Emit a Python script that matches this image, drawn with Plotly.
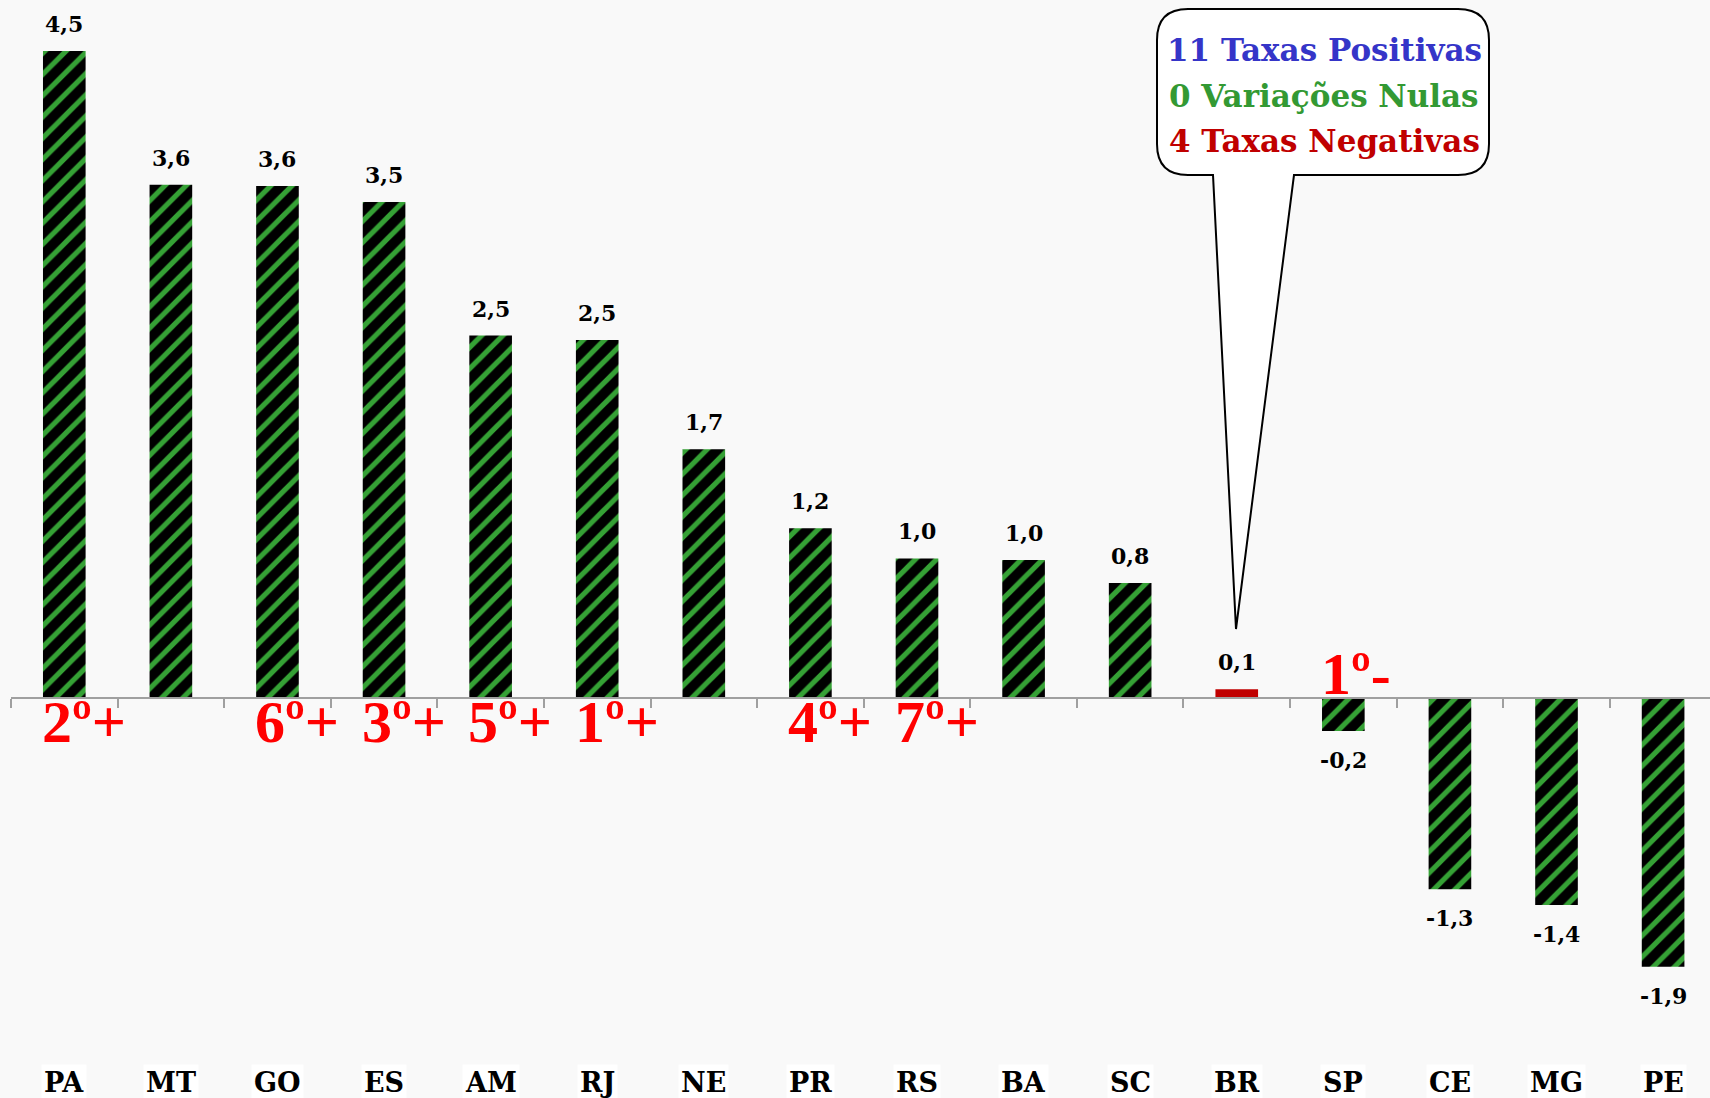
import plotly.graph_objects as go

# ---------------- data ----------------
categories = ["PA", "MT", "GO", "ES", "AM", "RJ", "NE", "PR", "RS", "BA", "SC", "BR", "SP", "CE", "MG", "PE"]
values = [4.50, 3.57, 3.56, 3.45, 2.52, 2.49, 1.73, 1.18, 0.97, 0.96, 0.80, 0.06, -0.23, -1.33, -1.44, -1.87]
ranks = ["2º+", "", "6º+", "3º+", "5º+", "1º+", "", "4º+", "7º+", "", "", "", "1º-", "", "", ""]
highlight = "BR"
callout_lines = ["11 Taxas Positivas", "0 Variações Nulas", "4 Taxas Negativas"]
callout_colors = ["#3535c8", "#339933", "#c00000"]

# ---------------- layout constants ----------------
W, H = 1710, 1098
ML, MR, MT_, MB = 11, 0, 0, 0
YMAX, YMIN = 4.854, -2.782
XMIN, XMAX = -0.5, 15.44
BARW = 0.4
BG = "#f9f9f9"
GREEN = "#35a135"
SERIF = "DejaVu Serif"
TIMES = "Liberation Serif"

pw = W - ML - MR
ph = H - MT_ - MB


def px(xp):
    return (xp - ML) / pw


def py(yp):
    return 1 - (yp - MT_) / ph


labels = [f"<b>{v:.1f}</b>".replace(".", ",") for v in values]

reg_x = [c for c in categories if c != highlight]
reg_y = [v for c, v in zip(categories, values) if c != highlight]
hi_x = [c for c in categories if c == highlight]
hi_y = [v for c, v in zip(categories, values) if c == highlight]

fig = go.Figure()
fig.add_trace(go.Bar(
    x=reg_x, y=reg_y, width=BARW,
    marker=dict(
        color="black", line=dict(width=0),
        pattern=dict(shape="/", fgcolor=GREEN, bgcolor="black", fgopacity=1,
                     fillmode="replace", size=15, solidity=0.35),
    ),
    hoverinfo="skip",
))
fig.add_trace(go.Bar(
    x=hi_x, y=hi_y, width=BARW,
    marker=dict(color="#c00000", line=dict(width=0)),
    hoverinfo="skip",
))

annotations = []
# value labels
for i, (v, t) in enumerate(zip(values, labels)):
    annotations.append(dict(
        x=i, y=v, xref="x", yref="y", xanchor="center", yanchor="middle",
        yshift=27 if v >= 0 else -29, text=t, showarrow=False,
        font=dict(family=SERIF, size=22, color="black"),
    ))

# rank labels
for i, (c, r, v) in enumerate(zip(categories, ranks, values)):
    if not r:
        continue
    above = v < 0
    annotations.append(dict(
        x=i - BARW / 2, y=0, xref="x", yref="y",
        xanchor="left", yanchor="middle",
        yshift=24 if above else -24, xshift=-3,
        text=f"<b>{r}</b>", showarrow=False,
        font=dict(family=TIMES, size=60, color="#ff0000"),
    ))

# category labels at bottom
for i, c in enumerate(categories):
    annotations.append(dict(
        x=i, y=py(1082), xref="x", yref="paper",
        xanchor="center", yanchor="middle",
        text=f"<b>{c}</b>", showarrow=False,
        font=dict(family=SERIF, size=27, color="black"),
        bgcolor="white", borderpad=2,
    ))

# callout
L, R, T, B, rad = 1157, 1489, 9, 175, 31
pL, pR, ax_, ay_ = 1213, 1294, 1236, 629
path = (
    f"M{px(L+rad)},{py(T)} L{px(R-rad)},{py(T)} Q{px(R)},{py(T)} {px(R)},{py(T+rad)} "
    f"L{px(R)},{py(B-rad)} Q{px(R)},{py(B)} {px(R-rad)},{py(B)} "
    f"L{px(pR)},{py(B)} L{px(ax_)},{py(ay_)} L{px(pL)},{py(B)} "
    f"L{px(L+rad)},{py(B)} Q{px(L)},{py(B)} {px(L)},{py(B-rad)} "
    f"L{px(L)},{py(T+rad)} Q{px(L)},{py(T)} {px(L+rad)},{py(T)} Z"
)
shapes = [dict(type="path", xref="paper", yref="paper", path=path,
               fillcolor="white", line=dict(color="black", width=2), layer="above")]

for k, (t, col) in enumerate(zip(callout_lines, callout_colors)):
    annotations.append(dict(
        x=px(1324), y=py(50 + 45.5 * k), xref="paper", yref="paper",
        xanchor="center", yanchor="middle", showarrow=False,
        text=f"<b>{t}</b>", font=dict(family=SERIF, size=31, color=col),
    ))

zero_pos = (0 - YMIN) / (YMAX - YMIN)

fig.update_layout(
    width=W, height=H,
    margin=dict(l=ML, r=MR, t=MT_, b=MB),
    paper_bgcolor=BG, plot_bgcolor=BG,
    showlegend=False,
    barmode="overlay",
    xaxis=dict(
        range=[XMIN, XMAX], anchor="free", position=zero_pos,
        categoryorder="array", categoryarray=categories,
        showline=True, linecolor="#a0a0a0", linewidth=1.5,
        ticks="outside", tickson="boundaries", ticklen=9, tickcolor="#a0a0a0", tickwidth=1.5,
        showticklabels=False, showgrid=False, zeroline=False, fixedrange=True,
    ),
    yaxis=dict(
        range=[YMIN, YMAX], visible=False, showgrid=False, zeroline=False, fixedrange=True,
    ),
    annotations=annotations,
    shapes=shapes,
)

fig.write_html(
    "out.html",
    config={"displayModeBar": False},
    post_script="document.body.style.margin='0';document.body.style.background='%s';" % BG,
)
